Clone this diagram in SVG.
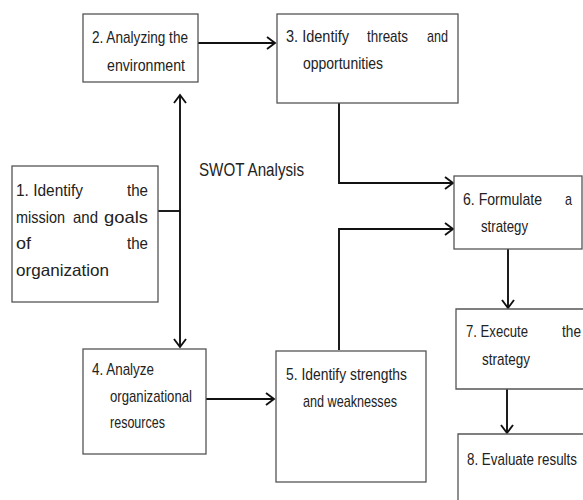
<svg xmlns="http://www.w3.org/2000/svg" width="583" height="500" viewBox="0 0 583 500">
<style>
.box{fill:#fff;stroke:#555;stroke-width:1.3}
.t{font-family:"Liberation Sans",Arial,sans-serif;font-size:17px;fill:#222}
.t1{font-family:"Liberation Sans",Arial,sans-serif;font-size:16.5px;fill:#222}
.sw{font-family:"Liberation Sans",Arial,sans-serif;font-size:18.5px;fill:#222}
.c{fill:none;stroke:#111;stroke-width:1.9}
</style>
<defs>
<marker id="ah" markerUnits="userSpaceOnUse" markerWidth="20" markerHeight="20" refX="0" refY="0" viewBox="-10 -10 20 20" orient="auto-start-reverse" overflow="visible">
<path d="M-8,-6 L0,0 L-8,6" fill="none" stroke="#111" stroke-width="1.9"/>
</marker>
</defs>
<g id="connectors">
<line class="c" x1="198" y1="43" x2="275" y2="43" marker-end="url(#ah)"/>
<line class="c" x1="158" y1="211" x2="180" y2="211"/>
<line class="c" x1="180" y1="95" x2="180" y2="347" marker-start="url(#ah)" marker-end="url(#ah)"/>
<line class="c" x1="206" y1="399" x2="274" y2="399" marker-end="url(#ah)"/>
<path class="c" d="M339,103 V183 H453" marker-end="url(#ah)"/>
<path class="c" d="M339,350 V229 H453" marker-end="url(#ah)"/>
<line class="c" x1="508" y1="249" x2="508" y2="308" marker-end="url(#ah)"/>
<line class="c" x1="507" y1="389" x2="507" y2="433" marker-end="url(#ah)"/>
</g>
<g id="n1">
<rect class="box" x="12" y="166" width="146" height="136"/>
<text class="t1" x="16" y="196" textLength="67" lengthAdjust="spacingAndGlyphs">1. Identify</text>
<text class="t1" x="127" y="196" textLength="21" lengthAdjust="spacingAndGlyphs">the</text>
<text class="t1" x="16" y="222.5" textLength="49" lengthAdjust="spacingAndGlyphs">mission</text>
<text class="t1" x="73" y="222.5" textLength="25" lengthAdjust="spacingAndGlyphs">and</text>
<text class="t1" x="104" y="222.5" textLength="44" lengthAdjust="spacingAndGlyphs">goals</text>
<text class="t1" x="16" y="249" textLength="15" lengthAdjust="spacingAndGlyphs">of</text>
<text class="t1" x="127" y="249" textLength="21" lengthAdjust="spacingAndGlyphs">the</text>
<text class="t1" x="16" y="275.5" textLength="93" lengthAdjust="spacingAndGlyphs">organization</text>
</g>
<g id="n2">
<rect class="box" x="83" y="14" width="115" height="68"/>
<text class="t" x="92" y="43" textLength="96" lengthAdjust="spacingAndGlyphs">2. Analyzing the</text>
<text class="t" x="107" y="71" textLength="78" lengthAdjust="spacingAndGlyphs">environment</text>
</g>
<g id="n3">
<rect class="box" x="277" y="14" width="181" height="89"/>
<text class="t" x="286" y="42" textLength="63" lengthAdjust="spacingAndGlyphs">3. Identify</text>
<text class="t" x="367" y="42" textLength="41" lengthAdjust="spacingAndGlyphs">threats</text>
<text class="t" x="427" y="42" textLength="21" lengthAdjust="spacingAndGlyphs">and</text>
<text class="t" x="303" y="69" textLength="80" lengthAdjust="spacingAndGlyphs">opportunities</text>
</g>
<g id="swot">
<text class="sw" x="199" y="176" textLength="105" lengthAdjust="spacingAndGlyphs">SWOT Analysis</text>
</g>
<g id="n4">
<rect class="box" x="83" y="349" width="123" height="105"/>
<text class="t" x="92" y="375" textLength="62" lengthAdjust="spacingAndGlyphs">4. Analyze</text>
<text class="t" x="110" y="402" textLength="82" lengthAdjust="spacingAndGlyphs">organizational</text>
<text class="t" x="110" y="428" textLength="55" lengthAdjust="spacingAndGlyphs">resources</text>
</g>
<g id="n5">
<rect class="box" x="276" y="351" width="150" height="131"/>
<text class="t" x="286" y="380" textLength="121" lengthAdjust="spacingAndGlyphs">5. Identify strengths</text>
<text class="t" x="303" y="407" textLength="94" lengthAdjust="spacingAndGlyphs">and weaknesses</text>
</g>
<g id="n6">
<rect class="box" x="454" y="176" width="128" height="73"/>
<text class="t" x="463" y="205" textLength="79" lengthAdjust="spacingAndGlyphs">6. Formulate</text>
<text class="t" x="565" y="205" textLength="7" lengthAdjust="spacingAndGlyphs">a</text>
<text class="t" x="481" y="232" textLength="47" lengthAdjust="spacingAndGlyphs">strategy</text>
</g>
<g id="n7">
<path class="box" d="M584,309 H456 V389 H584"/>
<text class="t" x="466" y="337" textLength="62" lengthAdjust="spacingAndGlyphs">7. Execute</text>
<text class="t" x="581" y="337" text-anchor="end" textLength="19" lengthAdjust="spacingAndGlyphs">the</text>
<text class="t" x="482" y="365" textLength="48" lengthAdjust="spacingAndGlyphs">strategy</text>
</g>
<g id="n8">
<path class="box" d="M584,434 H458 V501"/>
<text class="t" x="467" y="465" textLength="110" lengthAdjust="spacingAndGlyphs">8. Evaluate results</text>
</g>
</svg>
